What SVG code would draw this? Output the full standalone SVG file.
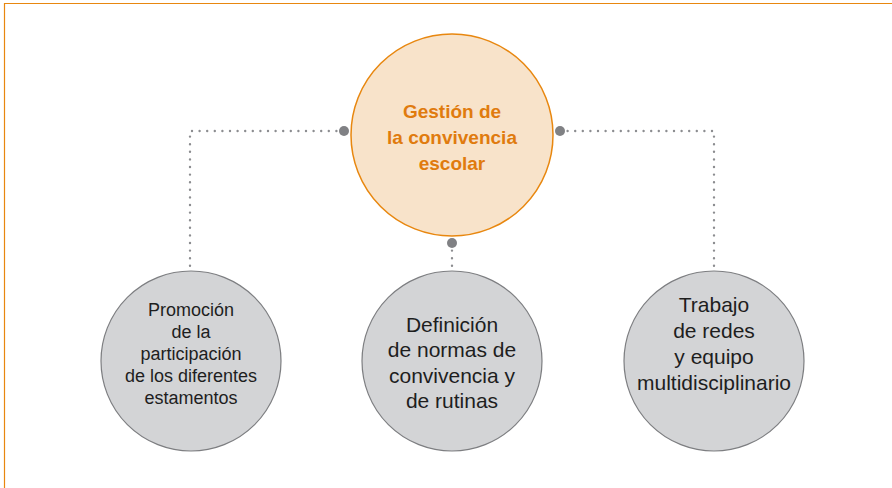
<svg xmlns="http://www.w3.org/2000/svg" width="892" height="488" viewBox="0 0 892 488">
<style>
.frame{fill:none;stroke:#E8870F;stroke-width:1.2}
.conn{fill:none;stroke:#8C8D90;stroke-width:2.4;stroke-linecap:round;stroke-dasharray:0 7.6}
.dot{fill:#808184}
.main{fill:#F8E3CA;stroke:#E8870F;stroke-width:1.5}
.sub{fill:#D3D4D6;stroke:#7D7E81;stroke-width:1.2}
.tmain{font-family:"Liberation Sans",Arial,sans-serif;font-weight:bold;font-size:19px;fill:#E07B0E;text-anchor:middle}
.tsub{font-family:"Liberation Sans",Arial,sans-serif;font-size:18px;fill:#1E1E1E;text-anchor:middle}
.tsub2{font-family:"Liberation Sans",Arial,sans-serif;font-size:21px;fill:#1E1E1E;text-anchor:middle}
</style>
<rect width="892" height="488" fill="#FFFFFF"/>
<path class="frame" d="M4.5,488 V3.5 H892"/>
<g id="connectors">
<path class="conn" d="M344,131 H190 V268"/>
<path class="conn" d="M560,131 H714 V270"/>
<path class="conn" d="M452,243 V270"/>
<circle class="dot" cx="344" cy="131" r="5"/>
<circle class="dot" cx="560" cy="131" r="5"/>
<circle class="dot" cx="452" cy="243" r="5"/>
</g>
<g id="node-main">
<circle class="main" cx="452" cy="135" r="101"/>
<text class="tmain" x="452" y="118">Gestión de</text>
<text class="tmain" x="452" y="144">la convivencia</text>
<text class="tmain" x="452" y="170">escolar</text>
</g>
<g id="node-promocion">
<circle class="sub" cx="191" cy="361" r="90"/>
<text class="tsub" x="191" y="316">Promoción</text>
<text class="tsub" x="191" y="338">de la</text>
<text class="tsub" x="191" y="360">participación</text>
<text class="tsub" x="191" y="382">de los diferentes</text>
<text class="tsub" x="191" y="404">estamentos</text>
</g>
<g id="node-definicion">
<circle class="sub" cx="452" cy="361" r="90"/>
<text class="tsub2" x="452" y="332">Definición</text>
<text class="tsub2" x="452" y="357">de normas de</text>
<text class="tsub2" x="452" y="383">convivencia y</text>
<text class="tsub2" x="452" y="408">de rutinas</text>
</g>
<g id="node-trabajo">
<circle class="sub" cx="714" cy="361" r="90"/>
<text class="tsub2" x="714" y="312">Trabajo</text>
<text class="tsub2" x="714" y="338">de redes</text>
<text class="tsub2" x="714" y="364">y equipo</text>
<text class="tsub2" x="714" y="390">multidisciplinario</text>
</g>
</svg>
